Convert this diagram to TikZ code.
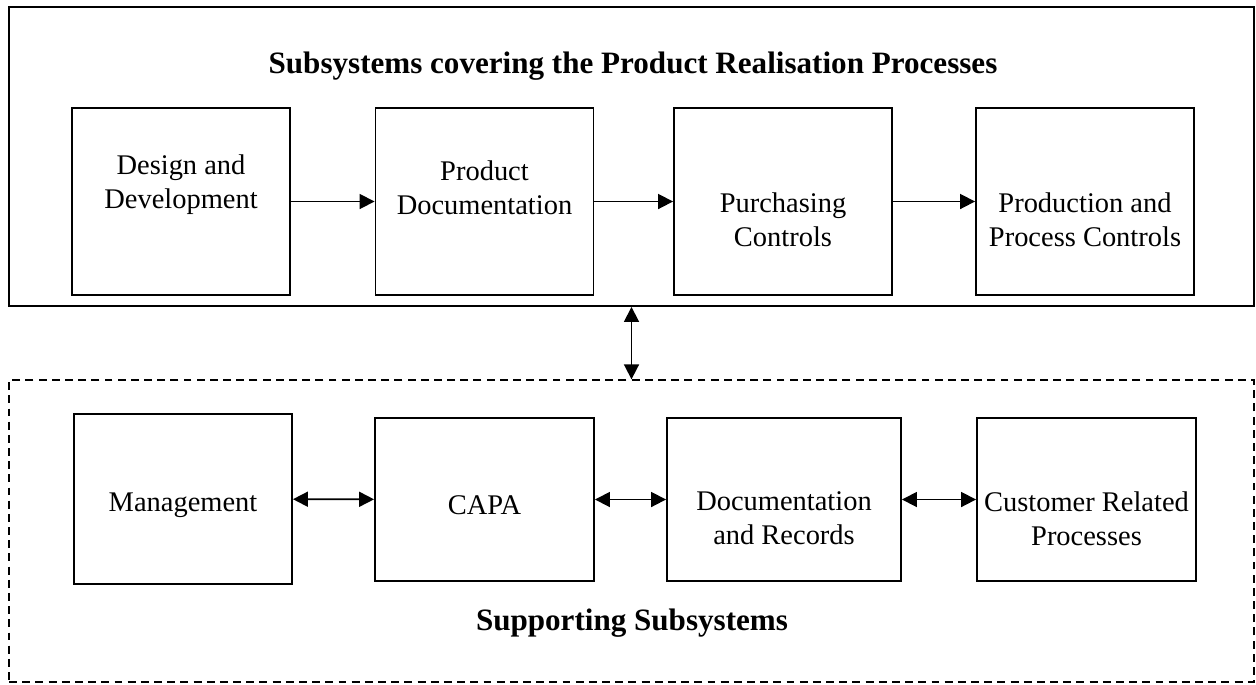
\documentclass[tikz,border=0pt]{standalone}
\usepackage{fontspec}
\setmainfont{Liberation Serif}
\usetikzlibrary{arrows.meta}
\tikzset{
  box/.style={draw, line width=1.1pt, minimum width=4.36cm, minimum height=3.74cm, inner sep=0pt},
  lowbox/.style={box, minimum height=3.26cm},
  txt/.style={align=center, inner sep=0pt, font=\fontsize{16.2}{19.3}\selectfont},
  head/.style={inner sep=0pt, font=\bfseries\fontsize{17.7}{21}\selectfont},
}
\begin{document}
\begin{tikzpicture}[x=0.02cm, y=-0.02cm, >={Triangle[length=0.3cm,width=0.3cm]}, line width=1pt]
  \useasboundingbox (0,0) rectangle (1256,684);
  % upper frame: product realisation
  \node[draw, line width=1.1pt, minimum width=24.9cm, minimum height=5.98cm] (upper) at (631.5,156.5) {};
  \node[head] (uphead) at (633,66) {Subsystems covering the Product Realisation Processes};
  \foreach \n/\x/\ty/\t in {dd/181/185/{Design and\\Development},
                            pd/484.5/188/{Product\\Documentation},
                            pc/783/220/{Purchasing\\Controls},
                            ppc/1085/220/{Production and\\Process Controls}}{
    \node[box] (\n) at (\x,201.5) {};
    \node[txt] (\n-t) at (\x,\ty) {\t};
  }
  \foreach \a/\b in {dd/pd, pd/pc, pc/ppc}{
    \draw[->] (\a) -- (\b);
  }
  % lower frame: supporting subsystems
  \node[draw, dashed, dash pattern=on 4.5pt off 3pt, line width=0.8pt, minimum width=24.9cm, minimum height=6.04cm] (lower) at (631.5,531) {};
  \node[head] (lowhead) at (632,623) {Supporting Subsystems};
  \node[box, minimum height=3.4cm] (mg) at (183,499) {};
  \node[txt] (mg-t) at (183,505) {Management};
  \foreach \n/\x/\w/\ty/\t in {capa/484.5/4.38cm/505/{CAPA},
                               dr/784/4.68cm/518/{Documentation\\and Records},
                               crp/1086.5/4.38cm/519/{Customer Related\\Processes}}{
    \node[lowbox, minimum width=\w] (\n) at (\x,499.5) {};
    \node[txt] (\n-t) at (\x,\ty) {\t};
  }
  \foreach \a/\b in {mg/capa, capa/dr, dr/crp}{
    \draw[<->] (\a) -- (\b);
  }
  % link between frames
  \draw[<->] (upper.south) -- (lower.north);
\end{tikzpicture}
\end{document}
